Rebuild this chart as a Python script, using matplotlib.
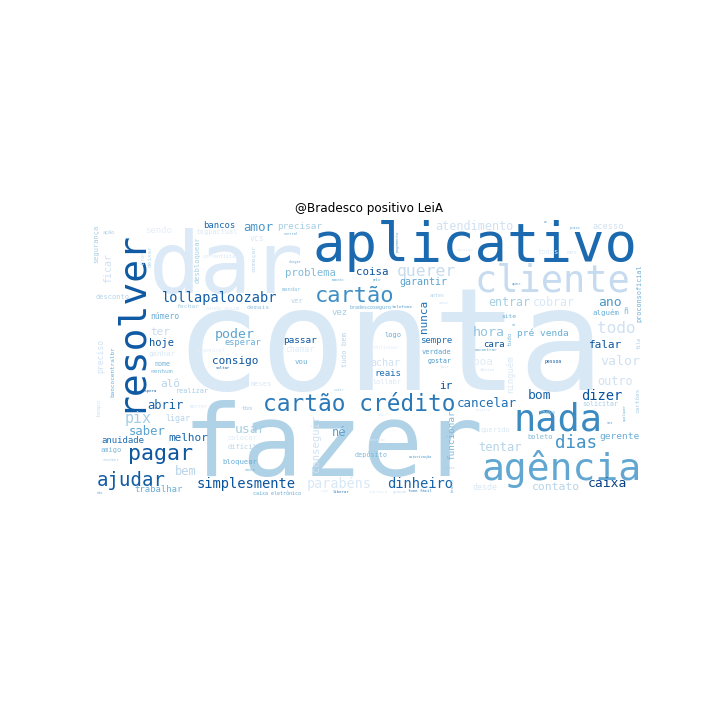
import matplotlib
matplotlib.use("Agg")
import matplotlib.pyplot as plt

# ---- data: words and their relative weights (font em size in cloud pixels) ----
words = ["conta", "fazer", "dar", "aplicativo", "resolver", "agência", "cliente", "nada",
         "cartão crédito", "cartão", "pagar", "ajudar", "dias", "pix", "querer", "todo",
         "dinheiro", "simplesmente", "dizer", "lollapaloozabr", "parabéns", "poder", "hora",
         "valor", "caixa", "bom", "ano", "usar", "cancelar", "amor", "saber", "abrir",
         "tentar", "né", "bem", "outro", "atendimento", "entrar", "cobrar", "contato",
         "falar", "melhor", "consigo", "ter", "alô", "ir", "nunca", "boa", "coisa",
         "problema", "conseguir", "hoje", "ficar", "garantir", "achar", "gerente",
         "pré venda", "precisar", "passar", "funcionar", "sempre", "reais", "cara", "vez",
         "ninguém", "sendo", "anuidade", "bancos", "trabalhar", "esperar", "acesso", "ligar",
         "desde", "número", "preciso", "vcs", "chamar", "ñ", "ganhar", "alguém", "vou",
         "tudo bem", "bloquear", "desconto", "segurança", "desbloquear", "ver", "logo",
         "verdade", "difícil", "amigo", "boleto", "querido", "meses", "colocar", "todos",
         "realizar", "lollabr", "proconsoficial", "depósito", "bigpactual", "gostar", "nome",
         "solicitar", "começar", "fechar", "demais", "site", "nenhum", "tudo",
         "bancocentralbr", "tempo", "vir", "cartões", "tbm", "deixar", "mês", "chave",
         "mandar", "ação", "antes", "correntista", "bradescoseguro", "fila", "tirar",
         "ainda assim", "caixa eletrônico", "disponível", "continuar", "morrer", "pessoa",
         "telefone", "encontrar", "pagamento", "espera", "voltar", "liberar", "fone fácil",
         "grande", "cobrança", "brasil", "quer", "serviço", "casa", "receber", "qualquer",
         "autorização", "central", "chegar", "prazo", "sei", "dever", "inovação", "rodar",
         "senha", "não", "pois", "cada", "projeto", "fábrica", "só", "momento", "pedir", "um"]

weights = [143, 100, 86, 54, 38, 38, 37, 37,
           22.7, 22, 21.7, 19, 17.5, 15, 16.4, 16,
           13.8, 13.75, 13.7, 13.6, 13.5, 13.3, 13.3,
           13.3, 13, 13, 13, 13, 12.5, 12.5, 12.3, 12,
           12, 12, 12, 11.7, 11.7, 11.6, 11.6, 11.4,
           11, 11, 11, 11, 11, 11, 11, 11, 10.7,
           10.5, 10.5, 10.4, 10, 10, 10, 9.5,
           9.5, 9.4, 9.4, 9.3, 9, 9, 9, 9,
           9, 9, 9, 8.9, 8.9, 8.8, 8.6, 8.4,
           8.3, 8, 8, 8, 8, 8, 7.5, 7.5, 7.4,
           7.3, 7.3, 7, 7, 7, 7, 7,
           7, 7, 7, 7, 7, 7, 7, 7,
           6.9, 6.9, 6.8, 6.8, 6.8, 6.7, 6.7,
           6.7, 6.4, 6.4, 6.4, 6.3, 6.3, 6,
           6, 6, 6, 6, 6, 6, 6, 5.5,
           5.5, 5, 5, 5, 5, 5, 4.5,
           5, 5, 5, 5, 5, 4.7,
           4.4, 4.3, 4, 4, 4, 4, 4,
           4, 4, 4, 4, 4, 4, 4, 3.5,
           3.5, 3.5, 3.5, 3.5, 3.5, 3.5, 3.5, 3.5,
           3.5, 3.5, 3.5, 3.5, 3.5, 3.5, 3.5, 3, 3, 3]

# ---- layout of the cloud (word centres on the cloud's pixel grid), orientation, colour shade ----
pos_x = [390, 333, 226, 475, 130, 562, 552, 558,
         359, 355, 160, 131, 576, 138, 427, 616,
         420, 246, 602, 220, 339, 235, 489,
         620, 607, 540, 610, 250, 487, 258, 147, 165,
         500, 339, 186, 615, 474, 509, 554, 556,
         606, 188, 235, 160, 170, 446, 424, 483, 372,
         311, 316, 162, 108, 423, 385, 620,
         543, 300, 300, 452, 436, 388, 494, 340,
         510, 158, 123, 219, 159, 243, 608, 178,
         485, 165, 101, 257, 300, 626, 162, 606, 301,
         345, 240, 113, 96, 198, 297, 393,
         437, 242, 111, 540, 495, 261, 242, 548,
         192, 387, 639, 371, 217, 440, 162,
         600, 254, 188, 258, 509, 162, 510,
         113, 99, 383, 638, 247, 150, 572, 548,
         292, 109, 437, 219, 371, 639, 143,
         223, 277, 211, 385, 199, 553,
         402, 486, 398, 150, 223, 341, 420,
         400, 378, 453, 517, 465, 443, 111, 625,
         421, 291, 295, 575, 610, 450, 377, 339,
         250, 100, 445, 325, 483, 487, 514, 338, 377, 545]

pos_y = [350, 448, 269, 246, 320, 469, 281, 420,
         404, 296, 454, 480, 443, 418, 271, 328,
         484, 484, 396, 298, 484, 334, 332,
         361, 483, 395, 302, 429, 403, 227, 431, 405,
         447, 432, 471, 381, 226, 302, 302, 487,
         345, 438, 361, 332, 384, 386, 316, 362, 272,
         273, 443, 343, 268, 282, 363, 436,
         333, 226, 340, 435, 340, 373, 344, 312,
         374, 230, 440, 225, 489, 342, 226, 418,
         487, 316, 356, 238, 349, 311, 354, 312, 362,
         349, 462, 297, 244, 260, 301, 335,
         352, 447, 450, 437, 430, 384, 438, 252,
         391, 382, 293, 454, 232, 361, 364,
         404, 258, 306, 307, 316, 371, 339,
         372, 408, 414, 400, 408, 256, 252, 412,
         289, 232, 295, 256, 307, 343, 258,
         308, 493, 350, 347, 406, 361,
         307, 350, 241, 391, 368, 492, 491,
         492, 492, 485, 284, 250, 303, 460, 412,
         457, 234, 262, 228, 423, 468, 440, 390,
         470, 493, 367, 491, 410, 370, 325, 280, 280, 222]

vertical = [0, 0, 0, 0, 1, 0, 0, 0,
            0, 0, 0, 0, 0, 0, 0, 0,
            0, 0, 0, 0, 0, 0, 0,
            0, 0, 0, 0, 0, 0, 0, 0, 0,
            0, 0, 0, 0, 0, 0, 0, 0,
            0, 0, 0, 0, 0, 0, 1, 0, 0,
            0, 1, 0, 1, 0, 0, 0,
            0, 0, 0, 1, 0, 0, 0, 0,
            1, 0, 0, 0, 0, 0, 0, 0,
            0, 0, 1, 0, 0, 0, 0, 0, 0,
            1, 0, 0, 1, 1, 0, 0,
            0, 0, 0, 0, 0, 0, 0, 0,
            0, 0, 1, 0, 0, 0, 0,
            0, 1, 0, 0, 0, 0, 1,
            1, 1, 0, 1, 0, 1, 0, 0,
            0, 0, 0, 0, 0, 1, 1,
            0, 0, 0, 0, 0, 0,
            0, 0, 1, 0, 0, 0, 0,
            0, 0, 1, 0, 0, 0, 0, 1,
            0, 0, 0, 0, 0, 0, 0, 0,
            0, 0, 0, 0, 0, 0, 0, 0, 0, 0]

shade = [0.15, 0.32, 0.14, 0.78, 0.84, 0.53, 0.25, 0.65,
         0.72, 0.64, 0.85, 0.83, 0.62, 0.35, 0.25, 0.2,
         0.8, 0.86, 0.86, 0.82, 0.15, 0.55, 0.4,
         0.2, 0.94, 0.8, 0.6, 0.35, 0.75, 0.6, 0.55, 0.8,
         0.3, 0.55, 0.3, 0.2, 0.2, 0.35, 0.15, 0.3,
         0.85, 0.8, 0.86, 0.25, 0.3, 0.86, 0.75, 0.12, 0.86,
         0.45, 0.2, 0.86, 0.2, 0.55, 0.2, 0.5,
         0.5, 0.35, 0.86, 0.45, 0.75, 0.75, 0.86, 0.35,
         0.15, 0.1, 0.75, 0.78, 0.5, 0.5, 0.2, 0.3,
         0.15, 0.5, 0.2, 0.15, 0.12, 0.45, 0.15, 0.5, 0.5,
         0.3, 0.5, 0.3, 0.35, 0.35, 0.3, 0.5,
         0.55, 0.3, 0.45, 0.45, 0.15, 0.15, 0.12, 0.12,
         0.35, 0.15, 0.5, 0.45, 0.15, 0.6, 0.5,
         0.35, 0.3, 0.35, 0.4, 0.5, 0.45, 0.45,
         0.5, 0.2, 0.1, 0.35, 0.35, 0.3, 0.15, 0.35,
         0.4, 0.35, 0.3, 0.15, 0.5, 0.35, 0.25,
         0.12, 0.5, 0.1, 0.1, 0.15, 0.85,
         0.6, 0.55, 0.5, 0.8, 0.8, 0.7, 0.7,
         0.25, 0.12, 0.5, 0.55, 0.15, 0.2, 0.35, 0.5,
         0.6, 0.5, 0.5, 0.5, 0.6, 0.35, 0.15, 0.35,
         0.5, 0.5, 0.2, 0.12, 0.15, 0.2, 0.5, 0.5, 0.55, 0.5]

DPI = 100
fig = plt.figure(figsize=(7.2, 7.2), dpi=DPI)
ax = fig.add_subplot(111)
ax.set_xlim(90, 648)
ax.set_ylim(503, 224)
ax.set_aspect("equal")
ax.axis("off")
ax.set_title("@Bradesco positivo LeiA", fontsize=8.64, pad=8.6)

cmap = plt.get_cmap("Blues")
for w, s, x, y, v, c in zip(words, weights, pos_x, pos_y, vertical, shade):
    ax.text(x, y, w, fontsize=s * 72.0 / DPI, family="DejaVu Sans Mono",
            color=cmap(c), ha="center", va="center",
            rotation=90 if v else 0, rotation_mode="anchor")

fig.savefig("out.png", dpi=DPI)
